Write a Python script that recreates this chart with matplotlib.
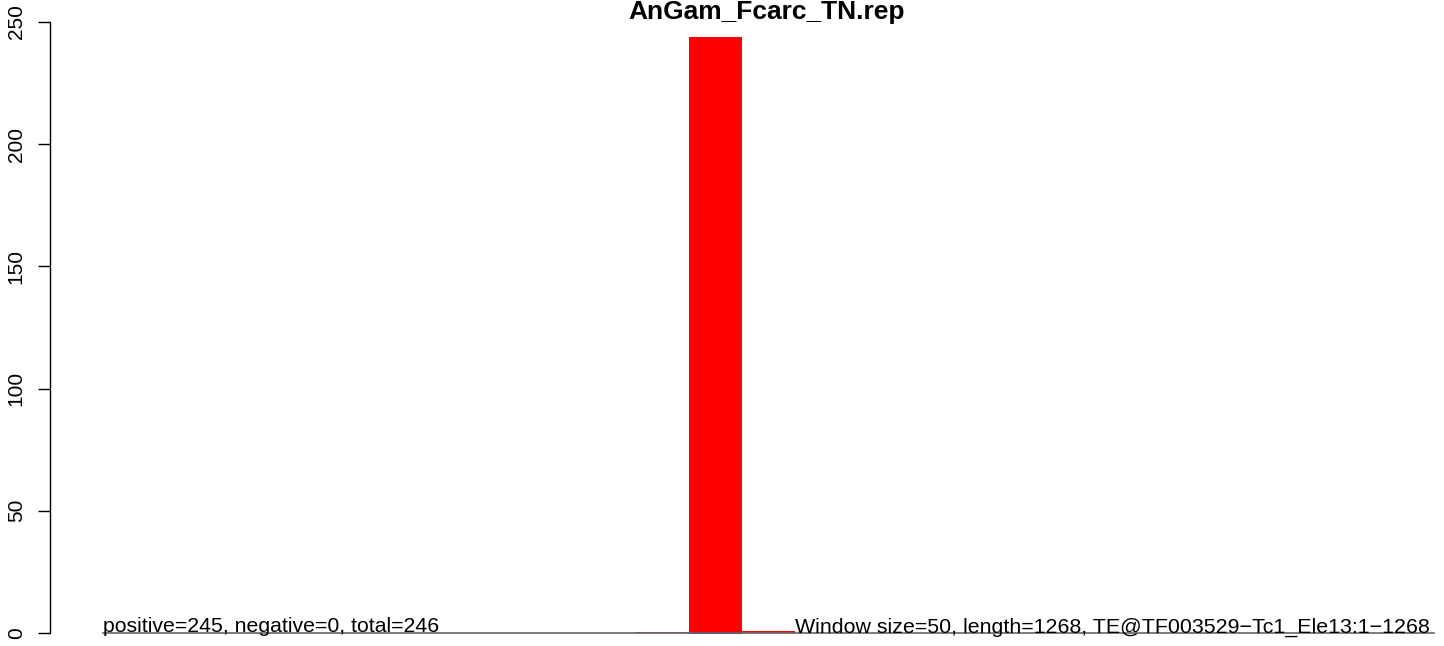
import matplotlib
matplotlib.use("Agg")
import matplotlib.pyplot as plt

plt.rcParams["font.family"] = ["Liberation Sans", "DejaVu Sans"]

# Data -----------------------------------------------------------------------
title = "AnGam_Fcarc_TN.rep"
n_windows = 25
positive = [0] * 10 + [0.5, 244, 1] + [0] * 12
negative = [0] * 11 + [-0.4] + [0] * 13
y_ticks = [0, 50, 100, 150, 200, 250]
left_note = "positive=245, negative=0, total=246"
right_note = "Window size=50, length=1268, TE@TF003529\u2212Tc1_Ele13:1\u22121268"

# Figure ----------------------------------------------------------------------
W, H, DPI = 1444, 646, 100
fig = plt.figure(figsize=(W / DPI, H / DPI), dpi=DPI)
ax = fig.add_axes([0, 0, 1, 1])

# pixel mapping: window 0 at x=103, 53.25 px per window; y=0 at 633, 2.444 px/unit
px_w, x0 = 53.25, 103
px_y, y0 = 2.444, 633
ax.set_xlim(-x0 / px_w, (W - x0) / px_w)
ax.set_ylim(-(H - y0) / px_y, y0 / px_y)

xs = list(range(n_windows))
ax.bar(xs, positive, width=1.0, align="edge", color="#ff0000", linewidth=0)
ax.bar(xs, negative, width=1.0, align="edge", color="#0000ff", linewidth=0)
ax.plot([0, n_windows], [0, 0], color="#666666", lw=1.2, zorder=1)

ax.text(0, 0.3, left_note, fontsize=15.3, ha="left", va="baseline")
ax.text(13, 0.3, right_note, fontsize=15.4, ha="left", va="baseline")

for s in ["top", "right", "bottom"]:
    ax.spines[s].set_visible(False)
ax.spines["left"].set_position(("data", -(x0 - 50) / px_w))
ax.spines["left"].set_bounds(0, 250)
ax.spines["left"].set_linewidth(1.0)
ax.set_yticks(y_ticks)
ax.set_yticklabels([str(t) for t in y_ticks], rotation=90, va="center", fontsize=15)
ax.tick_params(axis="y", length=8.5, width=1.0, pad=9, direction="out")
ax.set_xticks([])

fig.text(767 / W, 1 - 19 / H, title, fontsize=19, fontweight="bold",
         ha="center", va="baseline")

fig.savefig("out.png", dpi=DPI)
